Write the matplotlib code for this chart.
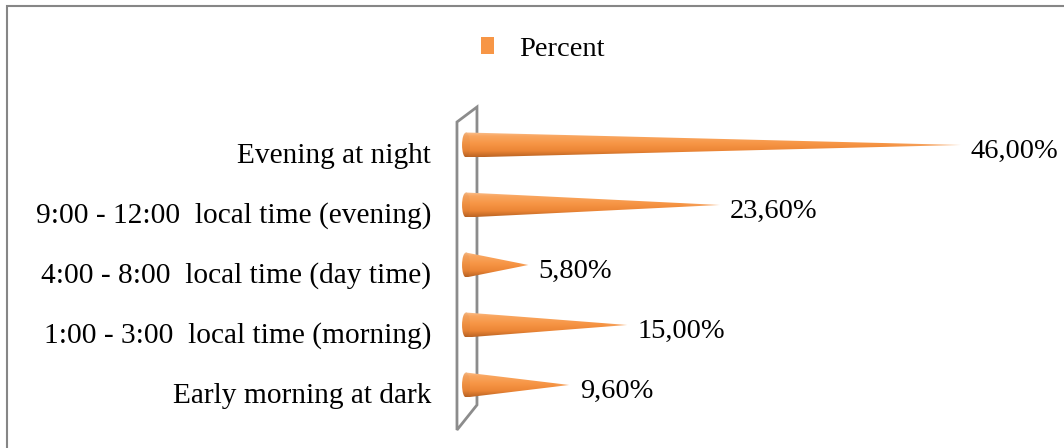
import numpy as np
import matplotlib
matplotlib.use("Agg")
import matplotlib.pyplot as plt
from matplotlib.patches import Polygon, Ellipse, Rectangle, Patch

# Survey answers: time of day, share of respondents (percent)
categories = [
    "Early morning at dark",
    "1:00 - 3:00  local time (morning)",
    "4:00 - 8:00  local time (day time)",
    "9:00 - 12:00  local time (evening)",
    "Evening at night",
]
percent = [9.6, 15.0, 5.8, 23.6, 46.0]
series_name = "Percent"

W, H, DPI = 1064, 448, 100
FONT = "Liberation Serif"
FS_CAT = 21.2
FS_VAL = 20.5
ORANGE = "#F79646"

fig = plt.figure(figsize=(W / DPI, H / DPI), dpi=DPI)
fig.patch.set_facecolor("white")

# plot area in pixel terms
ax_left, ax_right, ax_top, ax_bottom = 440, 1000, 95, 440
ax = fig.add_axes([ax_left / W, 1 - ax_bottom / H,
                   (ax_right - ax_left) / W, (ax_bottom - ax_top) / H])
ax.set_axis_off()

xlim = (-2.419, 49.67)
ylim = (-0.917, 4.833)

# vertical shading profile of a cone (top -> bottom)
stops = np.array([0.0, 0.15, 0.45, 0.75, 1.0])
cols = np.array([
    [250, 192, 142],
    [249, 166, 96],
    [247, 150, 70],
    [236, 134, 54],
    [188, 100, 36],
]) / 255.0


def gradient_image(nx, ny, tip_fade=True):
    t = np.linspace(0, 1, ny)
    prof = np.stack([np.interp(t, stops, cols[:, k]) for k in range(3)], axis=1)
    img = np.repeat(prof[:, None, :], nx, axis=1)
    if tip_fade:
        f = np.linspace(0, 1, nx)
        m = np.clip((f - 0.85) / 0.15, 0, 1) * 0.4
        pale = np.array([252, 214, 182]) / 255.0
        img = img * (1 - m[None, :, None]) + pale[None, None, :] * m[None, :, None]
    return img


half_h = 0.208   # cone base half-height (data units on y)
cap_w = 0.37     # half-width of the elliptical base (data units on x)

# back wall of the 3-D plot area
wall = Polygon([(-0.84, 4.383), (1.02, 4.633), (1.02, -0.333), (-0.84, -0.75)],
               closed=True, facecolor="white", edgecolor="#8C8C8C", lw=2.0, zorder=1)
ax.add_patch(wall)

for i, v in enumerate(percent):
    y = i
    # cone body
    body = Polygon([(0, y + half_h), (v, y), (0, y - half_h)], closed=True,
                   facecolor="none", edgecolor="none", transform=ax.transData)
    ax.add_patch(body)
    im = ax.imshow(gradient_image(400, 60), extent=[0, v, y - half_h, y + half_h],
                   aspect="auto", interpolation="bilinear", zorder=3)
    im.set_clip_path(body)
    # elliptical base
    cap = Ellipse((0, y), 2 * cap_w, 2 * half_h, facecolor="none",
                  edgecolor="none", transform=ax.transData)
    ax.add_patch(cap)
    im2 = ax.imshow(gradient_image(20, 60, tip_fade=False) * 0.97,
                    extent=[-cap_w, cap_w, y - half_h, y + half_h],
                    aspect="auto", interpolation="bilinear", zorder=3)
    im2.set_clip_path(cap)

    # value label at the tip
    lbl = f"{v:.2f}%".replace(".", ",")
    ax.annotate(lbl, xy=(v, y), xytext=(7.5, -13 * 0.72), textcoords="offset points",
                ha="left", va="baseline", fontsize=FS_VAL, family=FONT, color="black",
                zorder=5, annotation_clip=False)

    # category label
    ax.annotate(categories[i], xy=(0, y), xytext=(-(466 - 431) * 0.72, -18 * 0.72),
                textcoords="offset points", ha="right", va="baseline",
                fontsize=FS_CAT, family=FONT, color="black", annotation_clip=False)

ax.set_xlim(*xlim)
ax.set_ylim(*ylim)

# legend on top
handle = Patch(facecolor=ORANGE, edgecolor="none")
fig.legend([handle], [series_name], loc="center",
           bbox_to_anchor=(543 / W, 1 - 49 / H), frameon=False,
           prop={"family": FONT, "size": FS_VAL},
           handlelength=0.46, handleheight=0.55, handletextpad=0.9)

# chart border
fig.add_artist(Rectangle((6.5 / W, -0.05), 1.2, 1 - 6.5 / H + 0.05,
                         transform=fig.transFigure, facecolor="none",
                         edgecolor="#868686", lw=1.5))

fig.savefig("out.png", dpi=DPI)
